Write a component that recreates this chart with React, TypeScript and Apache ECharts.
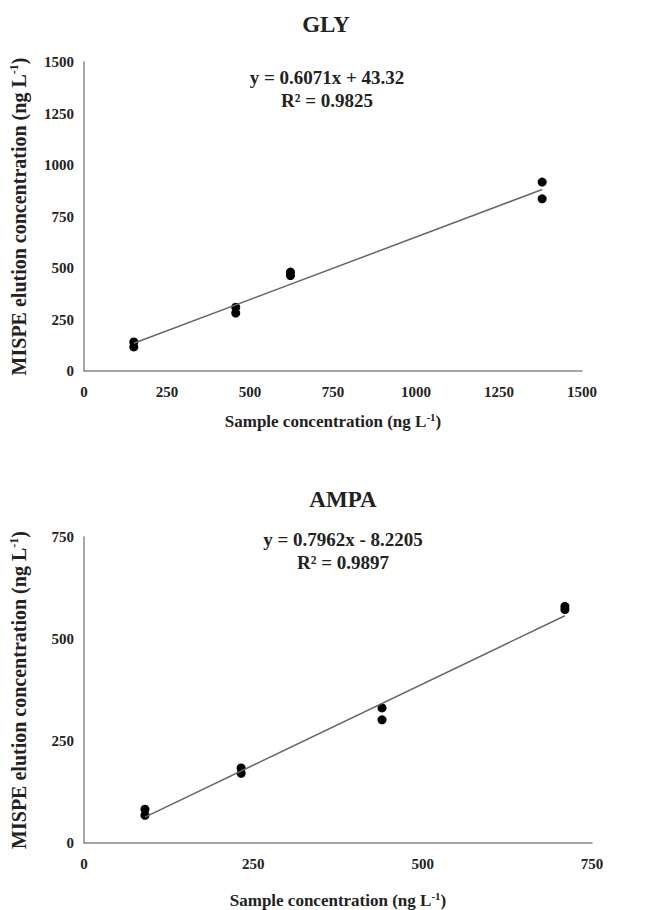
import React, { useEffect, useRef } from "react";
import * as echarts from "echarts";

// GLY data (sample concentration vs MISPE elution concentration, ng L-1)
const glyX = [150, 150, 457, 457, 622, 622, 1380, 1380];
const glyY = [141, 117, 310, 281, 480, 463, 917, 836];
const glyTicks = [0, 250, 500, 750, 1000, 1250, 1500];
const glySlope = 0.6071;
const glyIntercept = 43.32;
const glyEq = "y = 0.6071x + 43.32";
const glyR2 = "R² = 0.9825";

// AMPA data
const ampaX = [90, 90, 232, 232, 440, 440, 710, 710];
const ampaY = [83, 68, 184, 171, 331, 302, 580, 572];
const ampaTicks = [0, 250, 500, 750];
const ampaSlope = 0.7962;
const ampaIntercept = -8.2205;
const ampaEq = "y = 0.7962x - 8.2205";
const ampaR2 = "R² = 0.9897";

const FONT = "Liberation Serif";

export default function App() {
  const ref = useRef<HTMLDivElement>(null);
  useEffect(() => {
    if (!ref.current) return;
    const chart = echarts.init(ref.current, undefined, { renderer: "svg" });
    const trend = (xs: number[], m: number, b: number) => {
      const lo = Math.min(...xs);
      const hi = Math.max(...xs);
      return [
        [lo, m * lo + b],
        [hi, m * hi + b],
      ];
    };
    const axisLabel = {
      fontFamily: FONT,
      fontWeight: "bold",
      fontSize: 15,
      color: "#222",
      formatter: (v: number) => String(v),
    };
    const axisLine = { show: true, lineStyle: { color: "#888", width: 1.5 } };
    const yName = "{t|MISPE elution concentration (ng L}{s|-1}{t|)}";
    const xName = "{t|Sample concentration (ng L}{s|-1}{t|)}";
    const richY = {
      t: { fontFamily: FONT, fontWeight: "bold", fontSize: 20, color: "#222", lineHeight: 22 },
      s: { fontFamily: FONT, fontWeight: "bold", fontSize: 12, color: "#222", verticalAlign: "top", lineHeight: 22 },
    };
    const richX = {
      t: { fontFamily: FONT, fontWeight: "bold", fontSize: 17, color: "#222", lineHeight: 20 },
      s: { fontFamily: FONT, fontWeight: "bold", fontSize: 11, color: "#222", verticalAlign: "top", lineHeight: 20 },
    };
    const xAxisCommon = (max: number, gap: number) => ({
      type: "value",
      min: 0,
      max,
      interval: 250,
      axisLine,
      axisTick: { show: false },
      splitLine: { show: false },
      axisLabel: { ...axisLabel, margin: 13 },
      name: xName,
      nameLocation: "middle",
      nameGap: gap,
      nameTextStyle: { rich: richX },
    });
    const yAxisCommon = (max: number) => ({
      type: "value",
      min: 0,
      max,
      interval: 250,
      axisLine,
      axisTick: { show: false },
      splitLine: { show: false },
      axisLabel: { ...axisLabel, margin: 10 },
      name: yName,
      nameLocation: "middle",
      nameGap: 54,
      nameTextStyle: { rich: richY },
    });
    const titleStyle = { fontFamily: FONT, fontWeight: "bold", fontSize: 23, color: "#222" };
    const eqStyle = { fontFamily: FONT, fontWeight: "bold", fontSize: 19, color: "#222", lineHeight: 23 };

    chart.setOption({
      animation: false,
      backgroundColor: "#fff",
      title: [
        { text: "GLY", left: 326, top: 13, textAlign: "center", textStyle: titleStyle, padding: 0 },
        { text: glyEq + "\n" + glyR2, left: 327, top: 66, textAlign: "center", textStyle: eqStyle, padding: 0 },
        { text: "AMPA", left: 343, top: 488, textAlign: "center", textStyle: titleStyle, padding: 0 },
        { text: ampaEq + "\n" + ampaR2, left: 343, top: 528, textAlign: "center", textStyle: eqStyle, padding: 0 },
      ],
      grid: [
        { left: 84, top: 62, width: 498, height: 309 },
        { left: 84, top: 537, width: 508, height: 306 },
      ],
      xAxis: [
        { ...xAxisCommon(glyTicks[glyTicks.length - 1], 40), gridIndex: 0 },
        { ...xAxisCommon(ampaTicks[ampaTicks.length - 1], 47), gridIndex: 1 },
      ],
      yAxis: [
        { ...yAxisCommon(glyTicks[glyTicks.length - 1]), gridIndex: 0 },
        { ...yAxisCommon(ampaTicks[ampaTicks.length - 1]), gridIndex: 1 },
      ],
      series: [
        {
          type: "line",
          xAxisIndex: 0,
          yAxisIndex: 0,
          data: trend(glyX, glySlope, glyIntercept),
          showSymbol: false,
          lineStyle: { color: "#666", width: 1.5 },
          silent: true,
        },
        {
          type: "scatter",
          xAxisIndex: 0,
          yAxisIndex: 0,
          data: glyX.map((x, i) => [x, glyY[i]]),
          symbolSize: 9,
          itemStyle: { color: "#000", opacity: 1 },
        },
        {
          type: "line",
          xAxisIndex: 1,
          yAxisIndex: 1,
          data: trend(ampaX, ampaSlope, ampaIntercept),
          showSymbol: false,
          lineStyle: { color: "#666", width: 1.5 },
          silent: true,
        },
        {
          type: "scatter",
          xAxisIndex: 1,
          yAxisIndex: 1,
          data: ampaX.map((x, i) => [x, ampaY[i]]),
          symbolSize: 9,
          itemStyle: { color: "#000", opacity: 1 },
        },
      ],
    });
    return () => chart.dispose();
  }, []);
  return (
    <div
      ref={ref}
      style={{ position: "fixed", left: 0, top: 0, width: 646, height: 910 }}
    />
  );
}
